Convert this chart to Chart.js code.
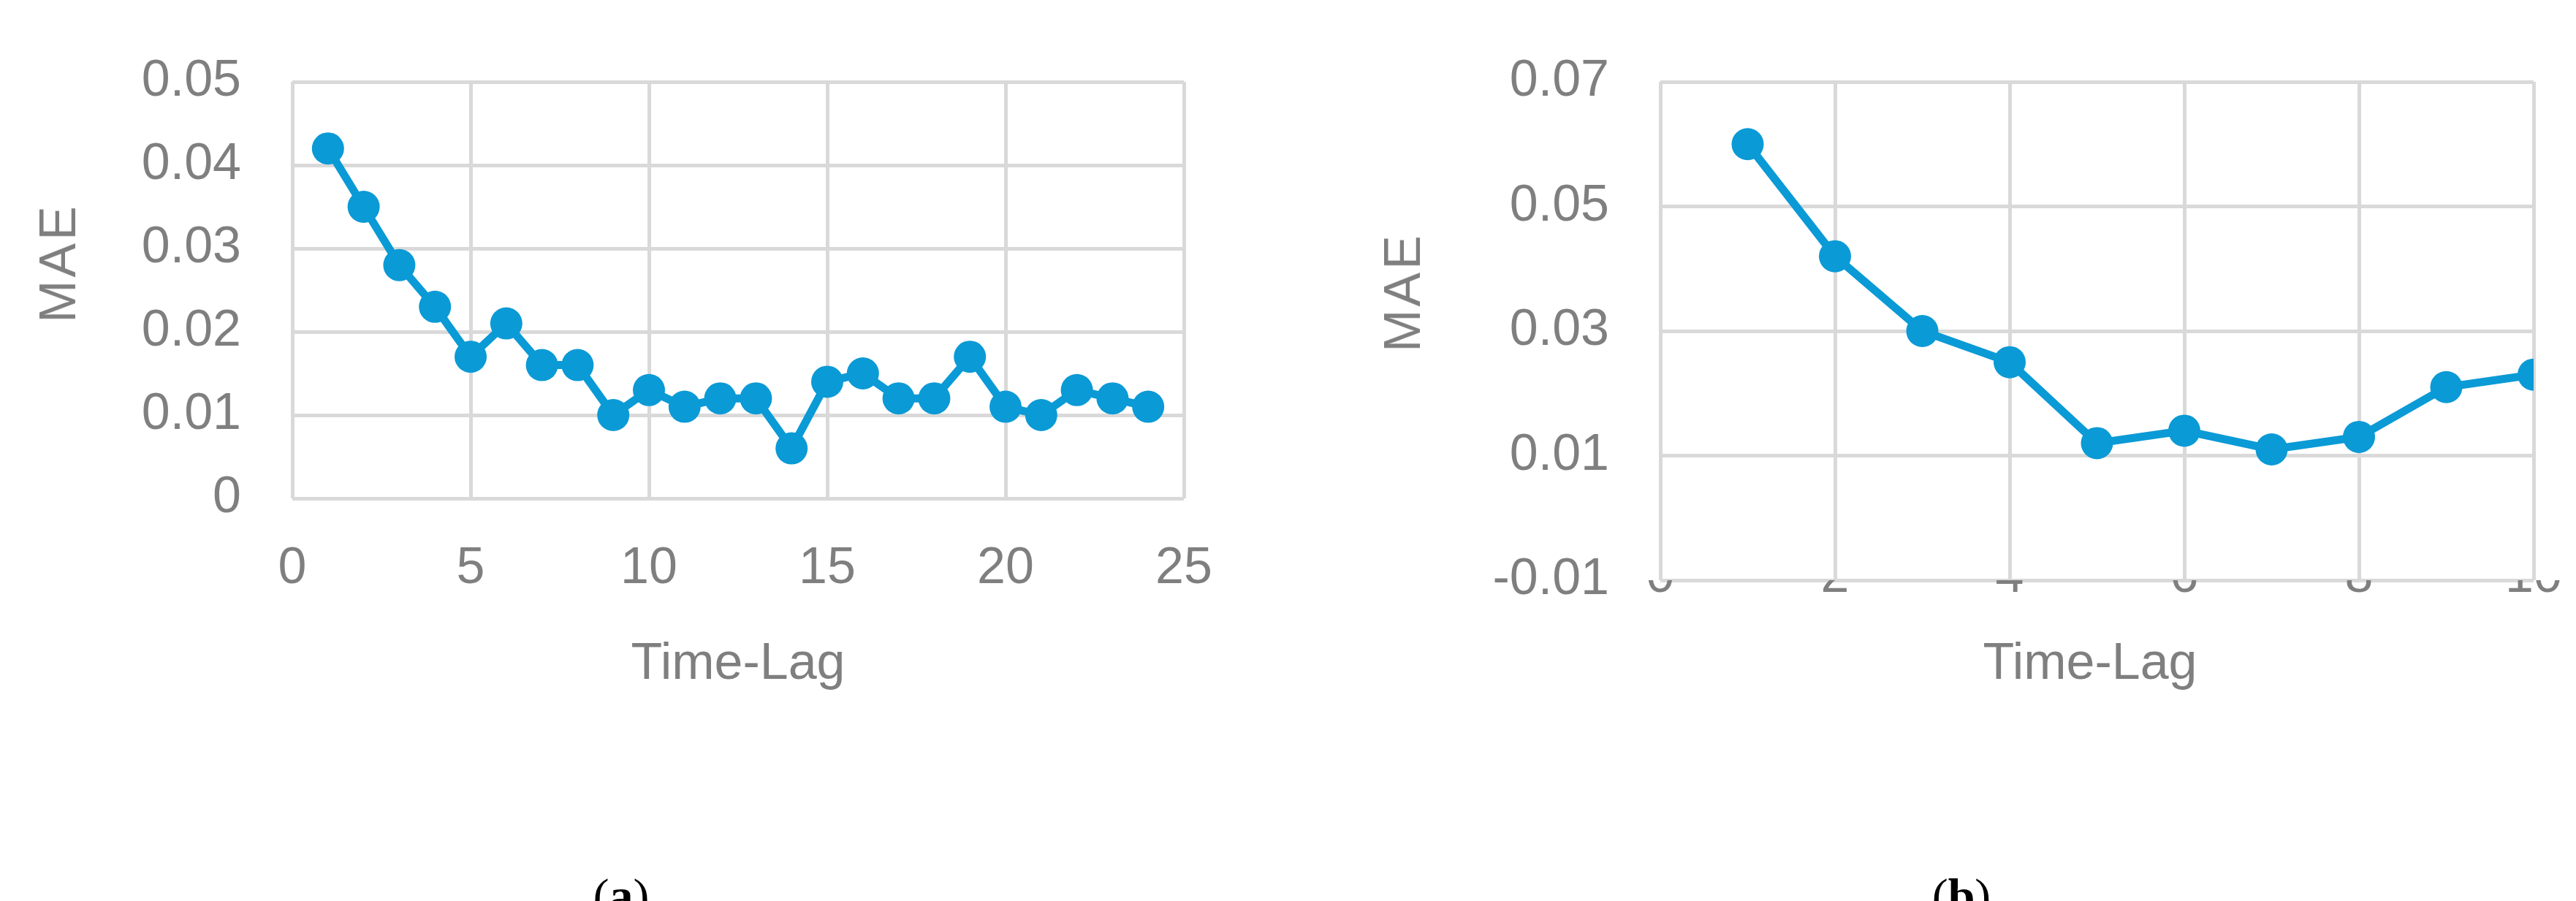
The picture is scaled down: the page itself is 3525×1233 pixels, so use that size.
<!DOCTYPE html>
<html>
<head>
<meta charset="utf-8">
<script src="https://cdn.jsdelivr.net/npm/chart.js@4/dist/chart.umd.min.js"></script>
<style>
body { margin: 0; background: #fff; width: 3525px; height: 1233px; position: relative; overflow: hidden; }
canvas { position: absolute; top: 0; }
.lbl { position: absolute; color: #7f7f7f; font-family: "Liberation Sans Narrow", "Liberation Sans", Arial, sans-serif; font-size: 70px; transform: translate(-50%, -50%); white-space: nowrap; }
.rot { transform: translate(-50%, -50%) rotate(-90deg); letter-spacing: 4px; }
.cap { position: absolute; color: #000; font-family: "Liberation Serif", serif; font-size: 66px; transform: translate(-50%, -50%); }
</style>
</head>
<body>
<canvas id="chartA" width="1760" height="1233" style="left:0"></canvas>
<canvas id="chartB" width="1765" height="1233" style="left:1760px"></canvas>
<div class="lbl rot" style="left:79px; top:360px">MAE</div>
<div class="lbl" style="left:1010px; top:905px">Time-Lag</div>
<div class="cap" style="left:850px; top:1226px">(<b>a</b>)</div>
<div class="lbl rot" style="left:1919px; top:400px">MAE</div>
<div class="lbl" style="left:2860px; top:905px">Time-Lag</div>
<div class="cap" style="left:2684px; top:1226px">(<b>b</b>)</div>
<script>
// data (a)
const lagsA = [1,2,3,4,5,6,7,8,9,10,11,12,13,14,15,16,17,18,19,20,21,22,23,24];
const maeA = [0.042,0.035,0.028,0.023,0.017,0.021,0.016,0.016,0.010,0.013,0.011,0.012,0.012,0.006,0.014,0.015,0.012,0.012,0.017,0.011,0.010,0.013,0.012,0.011];
// data (b)
const lagsB = [1,2,3,4,5,6,7,8,9,10];
const maeB = [0.060,0.042,0.030,0.025,0.012,0.014,0.011,0.013,0.021,0.023];

const blue = '#0a9ad6';
const grey = '#7f7f7f';
const gridCol = '#d9d9d9';
const tickFont = { family: '"Liberation Sans Narrow", "Liberation Sans", Arial, sans-serif', size: 70 };

function makeChart(id, xs, ys, opt) {
    const ctx = document.getElementById(id);
    return new Chart(ctx, {
        type: 'line',
        data: {
            datasets: [{
                data: xs.map((x, i) => ({ x: x, y: ys[i] })),
                borderColor: blue,
                backgroundColor: blue,
                borderWidth: 11,
                pointRadius: 22,
                pointBorderWidth: 0,
                tension: 0
            }]
        },
        options: {
            responsive: false,
            devicePixelRatio: 1,
            animation: false,
            layout: { padding: opt.padding },
            plugins: { legend: { display: false }, tooltip: { enabled: false } },
            scales: {
                x: {
                    type: 'linear', min: opt.xMin, max: opt.xMax,
                    ticks: { stepSize: opt.xStep, color: grey, font: tickFont, padding: opt.xPad, maxRotation: 0 },
                    grid: { color: gridCol, lineWidth: 5, drawTicks: false },
                    border: { display: false },
                    afterFit: s => { s.height = opt.xHeight; }
                },
                y: {
                    min: opt.yMin, max: opt.yMax,
                    ticks: { stepSize: opt.yStep, color: grey, font: tickFont, padding: 70,
                        callback: v => String(Math.round(v * 100) / 100) },
                    grid: { color: c => (c.tick && c.tick.value === 0 && opt.yMin < 0) ? '#bfbfbf' : gridCol, lineWidth: 5, drawTicks: false },
                    border: { display: false },
                    afterFit: s => { s.width = opt.yWidth; }
                }
            }
        }
    });
}

makeChart('chartA', lagsA, maeA, {
    padding: { left: 0, top: 52, right: 140, bottom: 0 },
    xMin: 0, xMax: 25, xStep: 5, xPad: 55, xHeight: 1233 - 682,
    yMin: 0, yMax: 0.05, yStep: 0.01, yWidth: 400
});
makeChart('chartB', lagsB, maeB, {
    padding: { left: 0, top: 52, right: 58, bottom: 0 },
    xMin: 0, xMax: 10, xStep: 2, xPad: -45, xHeight: 1233 - 794,
    yMin: -0.01, yMax: 0.07, yStep: 0.02, yWidth: 512
});
</script>
</body>
</html>
